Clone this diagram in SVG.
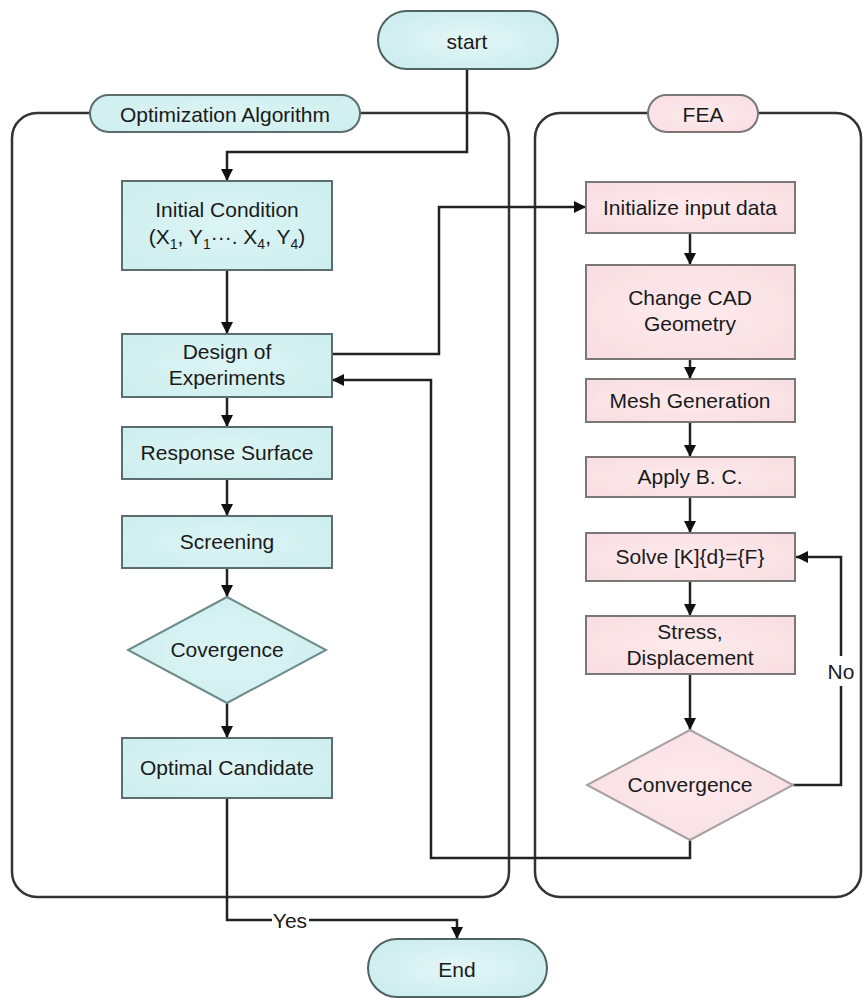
<svg xmlns="http://www.w3.org/2000/svg" width="864" height="998" viewBox="0 0 864 998">
<style>
  text { font-family: "Liberation Sans", Arial, sans-serif; font-size: 21px; fill: #1a1a1a; text-anchor: middle; }
  .cyan { fill: url(#gCyan); stroke: #5c6d6d; stroke-width: 2; }
  .pink { fill: url(#gPink); stroke: #7b7777; stroke-width: 2; }
  .dcyan { fill: url(#gCyan); stroke: #6f8c8c; stroke-width: 2; }
  .dpink { fill: url(#gPink); stroke: #a9a2a2; stroke-width: 2; }
  .term { fill: url(#gTerm); stroke: #4f6161; stroke-width: 2; }
  .cont { fill: none; stroke: #333; stroke-width: 2.5; }
  .conn { fill: none; stroke: #222; stroke-width: 2.5; }
  .sub { font-size: 14px; }
</style>
<defs>
  <radialGradient id="gCyan" cx="50%" cy="50%" r="70%">
    <stop offset="0" stop-color="#dcf4f4"/>
    <stop offset="1" stop-color="#cdeeef"/>
  </radialGradient>
  <radialGradient id="gPink" cx="50%" cy="50%" r="70%">
    <stop offset="0" stop-color="#fdeaec"/>
    <stop offset="1" stop-color="#f8dde1"/>
  </radialGradient>
  <radialGradient id="gTerm" cx="50%" cy="50%" r="70%">
    <stop offset="0" stop-color="#e4f6f7"/>
    <stop offset="1" stop-color="#c8ebed"/>
  </radialGradient>
  <marker id="arr" viewBox="0 0 12 12" refX="12" refY="6" markerWidth="12" markerHeight="12" markerUnits="userSpaceOnUse" orient="auto">
    <path d="M0,0 L12,6 L0,12 Z" fill="#111"/>
  </marker>
</defs>

<g id="containers">
  <g id="group-optimization">
    <rect class="cont" x="12" y="113" width="497" height="784" rx="25"/>
    <rect class="cyan" x="90" y="95" width="270" height="37" rx="18.5"/>
    <text x="225" y="122">Optimization Algorithm</text>
  </g>
  <g id="group-fea">
    <rect class="cont" x="535" y="113" width="326" height="784" rx="25"/>
    <rect class="pink" x="648" y="95" width="110" height="37" rx="18.5"/>
    <text x="703" y="122">FEA</text>
  </g>
</g>

<g id="connectors">
  <path class="conn" d="M467,69 V152 H227 V181" marker-end="url(#arr)"/>
  <path class="conn" d="M227,270 V334" marker-end="url(#arr)"/>
  <path class="conn" d="M332,354 H439 V207 H586" marker-end="url(#arr)"/>
  <path class="conn" d="M227,397 V427" marker-end="url(#arr)"/>
  <path class="conn" d="M227,479 V516" marker-end="url(#arr)"/>
  <path class="conn" d="M227,568 V597" marker-end="url(#arr)"/>
  <path class="conn" d="M227,703 V738" marker-end="url(#arr)"/>
  <path class="conn" d="M227,798 V920 H457 V939" marker-end="url(#arr)"/>
  <path class="conn" d="M690,233 V265" marker-end="url(#arr)"/>
  <path class="conn" d="M690,359 V379" marker-end="url(#arr)"/>
  <path class="conn" d="M690,422 V457" marker-end="url(#arr)"/>
  <path class="conn" d="M690,497 V533" marker-end="url(#arr)"/>
  <path class="conn" d="M690,581 V616" marker-end="url(#arr)"/>
  <path class="conn" d="M690,674 V730" marker-end="url(#arr)"/>
  <path class="conn" d="M793,785 H841 V557 H796" marker-end="url(#arr)"/>
  <path class="conn" d="M690,840 V858 H431 V380 H332" marker-end="url(#arr)"/>
  <rect x="272" y="910" width="37" height="20" fill="#fff"/>
  <text x="290" y="928">Yes</text>
  <rect x="828" y="656" width="26" height="30" fill="#fff"/>
  <text x="841" y="679">No</text>
</g>

<g id="start">
  <rect class="term" x="378" y="11" width="180" height="58" rx="29"/>
  <text x="467" y="49">start</text>
</g>
<g id="end">
  <rect class="term" x="368" y="939" width="179" height="58" rx="29"/>
  <text x="457" y="977">End</text>
</g>

<g id="initial-condition">
  <rect class="cyan" x="122" y="181" width="210" height="89"/>
  <text x="227" y="217">Initial Condition</text>
  <text x="227" y="244">(X<tspan class="sub" dy="5">1</tspan><tspan dy="-5">, Y</tspan><tspan class="sub" dy="5">1</tspan><tspan dy="-5">···. X</tspan><tspan class="sub" dy="5">4</tspan><tspan dy="-5">, Y</tspan><tspan class="sub" dy="5">4</tspan><tspan dy="-5">)</tspan></text>
</g>
<g id="design-of-experiments">
  <rect class="cyan" x="122" y="334" width="210" height="63"/>
  <text x="227" y="359">Design of</text>
  <text x="227" y="385">Experiments</text>
</g>
<g id="response-surface">
  <rect class="cyan" x="122" y="427" width="210" height="52"/>
  <text x="227" y="460">Response Surface</text>
</g>
<g id="screening">
  <rect class="cyan" x="122" y="516" width="210" height="52"/>
  <text x="227" y="549">Screening</text>
</g>
<g id="covergence">
  <polygon class="dcyan" points="227,597 326,650 227,703 128,650"/>
  <text x="227" y="657">Covergence</text>
</g>
<g id="optimal-candidate">
  <rect class="cyan" x="122" y="738" width="210" height="60"/>
  <text x="227" y="775">Optimal Candidate</text>
</g>

<g id="initialize-input-data">
  <rect class="pink" x="586" y="182" width="209" height="51"/>
  <text x="690" y="215">Initialize input data</text>
</g>
<g id="change-cad-geometry">
  <rect class="pink" x="586" y="265" width="209" height="94"/>
  <text x="690" y="305">Change CAD</text>
  <text x="690" y="331">Geometry</text>
</g>
<g id="mesh-generation">
  <rect class="pink" x="586" y="379" width="209" height="43"/>
  <text x="690" y="408">Mesh Generation</text>
</g>
<g id="apply-bc">
  <rect class="pink" x="586" y="457" width="209" height="40"/>
  <text x="690" y="484">Apply B. C.</text>
</g>
<g id="solve">
  <rect class="pink" x="586" y="533" width="209" height="48"/>
  <text x="690" y="564">Solve [K]{d}={F}</text>
</g>
<g id="stress-displacement">
  <rect class="pink" x="586" y="616" width="209" height="58"/>
  <text x="690" y="639">Stress,</text>
  <text x="690" y="665">Displacement</text>
</g>
<g id="convergence">
  <polygon class="dpink" points="690,730 793,785 690,840 587,785"/>
  <text x="690" y="792">Convergence</text>
</g>
</svg>
